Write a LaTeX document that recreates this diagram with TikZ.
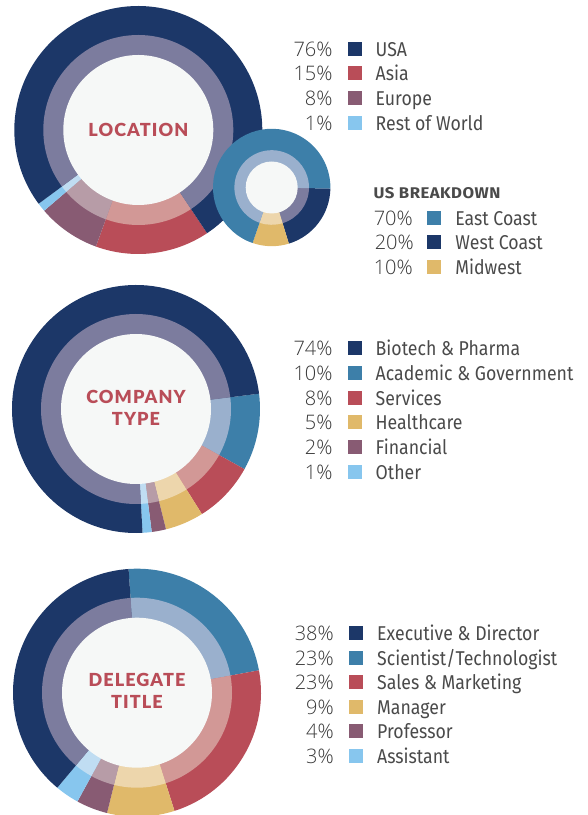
\documentclass[tikz,border=0pt]{standalone}
\usepackage{fontspec}
\setmainfont[FakeStretch=0.885]{Fira Sans}
\newfontfamily\titlefont[LetterSpace=6,BoldFont=* Black]{Lato}
\newfontfamily\headfont[FakeStretch=1.08,LetterSpace=3]{Fira Sans}
\newfontfamily\pctfont[UprightFont=* Light]{Open Sans}
\definecolor{navy}{HTML}{1C3768}
\definecolor{blue}{HTML}{3D7FA9}
\definecolor{redd}{HTML}{B94D58}
\definecolor{gold}{HTML}{E0B96A}
\definecolor{mauve}{HTML}{885B73}
\definecolor{sky}{HTML}{87C6EE}
\definecolor{navyb}{HTML}{7C7C9E}
\definecolor{blueb}{HTML}{9AB0CD}
\definecolor{reddb}{HTML}{D29896}
\definecolor{goldb}{HTML}{EDD6AC}
\definecolor{mauveb}{HTML}{B79CA7}
\definecolor{skyb}{HTML}{C0DDF2}
\definecolor{core}{HTML}{F6F8F7}
\definecolor{ink}{HTML}{4A4A4A}
\definecolor{inkd}{HTML}{3A3A3A}
\tikzset{
  x=1pt,y=1pt,
  pct/.style={anchor=base east,text=inkd,font=\fontsize{20}{20}\selectfont\pctfont,inner sep=0pt},
  lbl/.style={anchor=base west,text=ink,font=\fontsize{20}{20}\selectfont,inner sep=0pt},
  swatch/.style={minimum size=14pt,inner sep=0pt,draw=none,anchor=center},
  ttl/.style={text=redd,font=\fontsize{18}{22.5}\selectfont\titlefont\bfseries,align=center,inner sep=0pt},
  head/.style={anchor=base west,text=ink,font=\fontsize{15.5}{15.5}\selectfont\headfont\bfseries,inner sep=0pt},
}
\newcommand{\donut}[6]{%
  \foreach \a/\b/\c in {#6}{%
    \fill[\c] (#1,815-#2) -- ++(\a:#3) arc[start angle=\a,end angle=\b,radius=#3] -- cycle;
  }
  \foreach \a/\b/\c in {#6}{%
    \fill[\c b] (#1,815-#2) -- ++(\a:#4) arc[start angle=\a,end angle=\b,radius=#4] -- cycle;
  }
  \fill[core] (#1,815-#2) circle[radius=#5];
}
% \legrow{pct x}{swatch x}{label x}{y}{pct}{colour}{id}
\newcommand{\legrow}[7]{%
  \node[pct] (p#7) at (#1,815-#4-7.2) {#5};
  \node[swatch,fill=#6] (s#7) at (#2,815-#4) {};
  \node[lbl] (l#7) at (#3,815-#4-7.2) {\csname lbl#7\endcsname};
}
\begin{document}
\begin{tikzpicture}
\useasboundingbox (0,0) rectangle (588,815);
\donut{138.3}{130}{124}{95}{75}{-56.3/-110/redd,-110/-139.4/mauve,-139.4/-143.5/sky,-143.5/-416.3/navy}
\node[ttl] (t1) at (138.3,815-130) {LOCATION};
\donut{271.7}{187.5}{58.7}{37.3}{26}{-1/-73/navy,-73/-109/gold,-109/-361/blue}
\donut{136}{409}{124}{95}{75}{7.1/-29/blue,-29/-57.9/redd,-57.9/-76/gold,-76/-82.7/mauve,-82.7/-87/sky,-87/-352.9/navy}
\node[ttl] (t2) at (136,815-408) {COMPANY\\TYPE};
\donut{137}{692.7}{124}{95}{75}{93.9/10.4/blue,10.4/-72.4/redd,-72.4/-104/gold,-104/-118.7/mauve,-118.7/-130/sky,-130/-266.1/navy}
\node[ttl] (t3) at (137,815-691) {DELEGATE\\TITLE};
\def\lblA{USA}\def\lblB{Asia}\def\lblC{Europe}\def\lblD{Rest of World}
\legrow{332.7}{355}{375.5}{49}{76\%}{navy}{A}
\legrow{332.7}{355}{375.5}{73}{15\%}{redd}{B}
\legrow{332.7}{355}{375.5}{98}{8\%}{mauve}{C}
\legrow{332.7}{355}{375.5}{123}{1\%}{sky}{D}
\node[head] (us) at (373.5,815-199) {US BREAKDOWN};
\def\lblE{East Coast}\def\lblF{West Coast}\def\lblG{Midwest}
\legrow{413}{434}{455.2}{218}{70\%}{blue}{E}
\legrow{414}{434}{455.2}{242}{20\%}{navy}{F}
\legrow{413}{434}{455.2}{267}{10\%}{gold}{G}
\def\lblH{Biotech \& Pharma}\def\lblI{Academic \& Government}\def\lblJ{Services}\def\lblK{Healthcare}\def\lblL{Financial}\def\lblM{Other}
\legrow{332.7}{354.5}{375.5}{348}{74\%}{navy}{H}
\legrow{332.7}{354.5}{375.5}{373}{10\%}{blue}{I}
\legrow{332.7}{354.5}{375.5}{398}{8\%}{redd}{J}
\legrow{332.7}{354.5}{375.5}{422}{5\%}{gold}{K}
\legrow{332.7}{354.5}{375.5}{447}{2\%}{mauve}{L}
\legrow{332.7}{354.5}{375.5}{472}{1\%}{sky}{M}
\def\lblN{Executive \& Director}\def\lblO{Scientist/Technologist}\def\lblP{Sales \& Marketing}\def\lblQ{Manager}\def\lblR{Professor}\def\lblS{Assistant}
\legrow{334}{356}{377}{633}{38\%}{navy}{N}
\legrow{334}{356}{377}{658}{23\%}{blue}{O}
\legrow{334}{356}{377}{682}{23\%}{redd}{P}
\legrow{334}{356}{377}{707}{9\%}{gold}{Q}
\legrow{334}{356}{377}{731}{4\%}{mauve}{R}
\legrow{334}{356}{377}{756}{3\%}{sky}{S}
\end{tikzpicture}
\end{document}
